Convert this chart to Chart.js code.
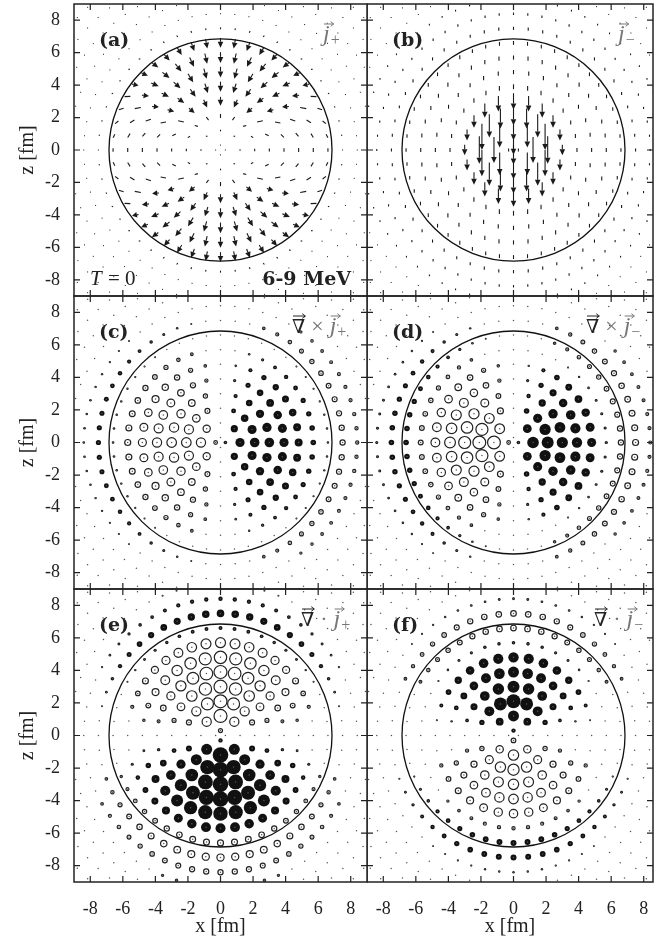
<!DOCTYPE html>
<html>
<head>
<meta charset="utf-8">
<script src="https://cdn.jsdelivr.net/npm/chart.js@4.4.1/dist/chart.umd.min.js"></script>
<style>
  body { margin: 0; background: #fff; width: 655px; height: 943px; position: relative; overflow: hidden; }
  canvas { position: absolute; }
</style>
</head>
<body>
<canvas id="pa"></canvas>
<canvas id="pb"></canvas>
<canvas id="pc"></canvas>
<canvas id="pd"></canvas>
<canvas id="pe"></canvas>
<canvas id="pf"></canvas>
<script>
// axis ticks and the polar mesh the fields are sampled on
const tickValues = [-8, -6, -4, -2, 0, 2, 4, 6, 8];
const ringRadius = [0.3, 1.2, 2.1, 3.0, 3.9, 4.8, 5.7, 6.6, 7.5, 8.4, 9.3, 10.2, 11.1, 12.0, 12.9];
const ringCount = [4, 8, 16, 20, 28, 32, 40, 48, 52, 60, 64, 72, 76, 84, 92];
const nucleusRadius = 6.85;

// (a) j+ : radial part read on the z axis, tangential part read on the x axis
const jPlusRadial = [-0.05, -0.1, -0.25, -0.55, -0.62, -0.66, -0.66, -0.6, -0.12, -0.08, -0.06, -0.05, -0.04, -0.04, -0.03];
const jPlusTangential = [-0.06, -0.1, -0.14, -0.18, -0.22, -0.24, -0.26, -0.22, -0.08, -0.06, -0.05, -0.04, -0.03, -0.03, -0.02];

// (b) j- : downward current on the z axis and on the x axis
const jMinusAxis = [1.2, 1.2, 1.15, 1.0, 0.3, 0.26, 0.26, 0.24, 0.2, 0.15, 0.11, 0.08, 0.06, 0.05, 0.04];
const jMinusEquator = [0.2, 1.6, 1.7, 0.65, 0.24, 0.24, 0.24, 0.22, 0.18, 0.13, 0.1, 0.08, 0.06, 0.05, 0.04];

// (c), (d) curl : values on the +x side and on the -x side
const curlPlusRight = [18, 46, 48, 48, 46, 40, 28, 12, -26, -16, -7, -3, -1, 0, 0];
const curlPlusLeft = [-18, -46, -48, -48, -46, -40, -30, 13, 26, 13, 6, 2, 1, 0, 0];
const curlMinusRight = [18, 58, 60, 56, 52, 45, 16, -26, -30, -15, -6, -3, -1, 0, 0];
const curlMinusLeft = [-18, -64, -64, -60, -54, -44, -24, 28, 28, 15, 6, 3, 1, 0, 0];

// (e), (f) divergence : values above and below the x axis
const divPlusTop = [-20, -65, -65, -65, -65, -62, -50, 20, 38, 22, 10, 4, 1, 0, 0];
const divPlusBottom = [22, 78, 78, 78, 78, 72, 50, -30, -36, -26, -12, -4, -1, 0, 0];
const divMinusTop = [22, 55, 70, 60, 55, 52, 18, -28, -28, 14, 6, 3, 1, 0, 0];
const divMinusBottom = [-23, -52, -56, -52, -48, -42, -16, 30, 30, 12, 5, 2, 1, 0, 0];

const sizeScale = 0.1;
const serif = "'Liberation Serif', serif";

function meshPoints() {
    const pts = [];
    ringRadius.forEach((r, k) => {
        const n = ringCount[k];
        for (let i = 0; i < n; i++) {
            const t = 2 * Math.PI * i / n;
            const s = Math.sin(t), c = Math.cos(t);
            const x = r * s, y = r * c;
            if (Math.abs(x) < 9.4 && Math.abs(y) < 9.4) pts.push({ x: x, y: y, k: k, s: s, c: c });
        }
    });
    return pts;
}
const mesh = meshPoints();

function bubbleSets(valueOf) {
    const vals = mesh.map(p => ({ x: p.x, y: p.y, v: valueOf(p) }));
    return [
        { data: mesh.map(p => ({ x: p.x, y: p.y })), pointRadius: 0.75, pointBackgroundColor: "#555", pointBorderWidth: 0, clip: 0 },
        { data: vals.filter(d => d.v < -11), pointRadius: c => Math.abs(c.raw.v) * sizeScale, pointBackgroundColor: "rgba(0,0,0,0)", pointBorderColor: "#222", pointBorderWidth: 1.2, clip: 0 },
        { data: vals.filter(d => d.v > 9), pointRadius: c => c.raw.v * sizeScale, pointBackgroundColor: "#111", pointBorderWidth: 0, clip: 0 }
    ];
}

function vectorSet(vecOf) {
    return [{ data: mesh.map(p => Object.assign({ x: p.x, y: p.y }, vecOf(p))), pointRadius: 0, clip: 0 }];
}

function drawArrow(ctx, x0, y0, x1, y1) {
    const dx = x1 - x0, dy = y1 - y0, L = Math.hypot(dx, dy);
    if (L < 1.3) {
        ctx.fillRect((x0 + x1) / 2 - 0.5, (y0 + y1) / 2 - 0.5, 1, 1);
        return;
    }
    ctx.beginPath();
    if (L < 6.5) {
        ctx.moveTo(x0, y0); ctx.lineTo(x1, y1); ctx.stroke();
        return;
    }
    const ux = dx / L, uy = dy / L, hl = Math.min(6, L * 0.75), hw = 2.8;
    ctx.moveTo(x0, y0); ctx.lineTo(x1 - ux * hl, y1 - uy * hl); ctx.stroke();
    ctx.beginPath();
    ctx.moveTo(x1, y1);
    ctx.lineTo(x1 - ux * hl - uy * hw, y1 - uy * hl + ux * hw);
    ctx.lineTo(x1 - ux * hl + uy * hw, y1 - uy * hl - ux * hw);
    ctx.closePath(); ctx.fill();
}

function vecGlyph(ctx, x, y, ch, font, color, lift, a0, a1) {
    ctx.font = font; ctx.fillStyle = color; ctx.strokeStyle = color;
    ctx.fillText(ch, x, y);
    const w = ctx.measureText(ch).width;
    const ay = y - lift, xa = x + a0, xb = x + w + a1;
    ctx.lineWidth = 1;
    ctx.beginPath();
    ctx.moveTo(xa, ay); ctx.lineTo(xb, ay);
    ctx.moveTo(xb - 3, ay - 2.3); ctx.lineTo(xb, ay); ctx.lineTo(xb - 3, ay + 2.3);
    ctx.stroke();
    return w;
}

function jSymbol(ctx, x, y, sign) {
    const w = vecGlyph(ctx, x, y, "j", "italic 24px " + serif, "#777", 17, 1, 4);
    ctx.font = "16px " + serif;
    ctx.fillText(sign, x + w + 1, y + 4);
}

function symbolLabel(ctx, x, y, kind, sign) {
    if (kind === "j") { jSymbol(ctx, x, y, sign); return; }
    const w = vecGlyph(ctx, x, y, "\u2207", "19px 'DejaVu Serif'", "#222", 17, 1, 0);
    ctx.font = "22px " + serif; ctx.fillStyle = "#777";
    const op = kind === "curl" ? "\u00d7" : "\u00b7";
    ctx.fillText(op, x + w + 6, y);
    const wo = ctx.measureText(op).width;
    jSymbol(ctx, x + w + wo + 12, y, sign);
}

const panelPlugin = {
    id: "panel",
    afterDatasetsDraw(chart, args, opts) {
        const ctx = chart.ctx, a = chart.chartArea, xs = chart.scales.x, ys = chart.scales.y;
        if (opts.vectors) {
            ctx.save();
            ctx.beginPath(); ctx.rect(a.left, a.top, a.right - a.left, a.bottom - a.top); ctx.clip();
            ctx.fillStyle = "#1a1a1a"; ctx.strokeStyle = "#1a1a1a"; ctx.lineWidth = 1.1;
            const meta = chart.getDatasetMeta(0);
            chart.data.datasets[0].data.forEach((d, i) => {
                const el = meta.data[i];
                const hx = (xs.getPixelForValue(d.x + d.u) - el.x) / 2;
                const hy = (ys.getPixelForValue(d.y + d.w) - el.y) / 2;
                drawArrow(ctx, el.x - hx, el.y - hy, el.x + hx, el.y + hy);
            });
            ctx.restore();
        }
    },
    afterDraw(chart, args, opts) {
        const ctx = chart.ctx, a = chart.chartArea, xs = chart.scales.x, ys = chart.scales.y;
        ctx.save();
        ctx.beginPath(); ctx.rect(a.left, a.top, a.right - a.left, a.bottom - a.top); ctx.clip();
        // nucleus surface
        const cx = xs.getPixelForValue(0), cy = ys.getPixelForValue(0);
        const rx = xs.getPixelForValue(nucleusRadius) - cx, ry = cy - ys.getPixelForValue(nucleusRadius);
        ctx.strokeStyle = "#111"; ctx.lineWidth = 1.3;
        ctx.beginPath(); ctx.ellipse(cx, cy, rx, ry, 0, 0, 2 * Math.PI); ctx.stroke();
        // inward ticks on all four sides
        ctx.strokeStyle = "#222"; ctx.lineWidth = 1.2;
        ctx.beginPath();
        tickValues.forEach(v => {
            const px = xs.getPixelForValue(v), py = ys.getPixelForValue(v);
            ctx.moveTo(px, a.bottom); ctx.lineTo(px, a.bottom - 6);
            ctx.moveTo(px, a.top); ctx.lineTo(px, a.top + 6);
            ctx.moveTo(a.left, py); ctx.lineTo(a.left + 6, py);
            ctx.moveTo(a.right, py); ctx.lineTo(a.right - 6, py);
        });
        ctx.stroke();
        ctx.restore();
        // frame
        ctx.save();
        ctx.strokeStyle = "#222"; ctx.lineWidth = 1.5;
        ctx.strokeRect(a.left, a.top, a.right - a.left, a.bottom - a.top);
        // texts
        ctx.textBaseline = "alphabetic"; ctx.textAlign = "left";
        ctx.fillStyle = "#222";
        ctx.font = "bold 19px 'DejaVu Serif'";
        ctx.fillText(opts.tag, a.left + 25, a.top + 42);
        symbolLabel(ctx, a.left + opts.symX, a.top + 37, opts.kind, opts.sign);
        if (opts.corner) {
            ctx.fillStyle = "#222";
            ctx.font = "italic 21px " + serif;
            ctx.fillText("T", a.left + 16, a.bottom - 11);
            const wt = ctx.measureText("T").width;
            ctx.font = "21px " + serif;
            ctx.fillText(" = 0", a.left + 16 + wt + 1, a.bottom - 11);
            ctx.font = "bold 19px 'DejaVu Serif'";
            ctx.textAlign = "right";
            ctx.fillText("6-9 MeV", a.right - 16, a.bottom - 11);
        }
        ctx.restore();
    }
};

function noOverflow(s) {
    s.paddingTop = 0; s.paddingBottom = 0; s.paddingLeft = 0; s.paddingRight = 0;
}

function makePanel(id, cfg) {
    const cv = document.getElementById(id);
    cv.width = cfg.w; cv.height = cfg.h;
    cv.style.left = cfg.left + "px"; cv.style.top = cfg.top + "px";
    cv.style.width = cfg.w + "px"; cv.style.height = cfg.h + "px";
    const tickFont = { family: serif, size: 18 };
    return new Chart(cv, {
        type: "scatter",
        data: { datasets: cfg.datasets },
        options: {
            responsive: false, animation: false, events: [],
            layout: { autoPadding: false, padding: { top: 4, bottom: cfg.padBottom, left: 0, right: cfg.padRight } },
            plugins: { legend: { display: false }, tooltip: { enabled: false }, panel: cfg.panel },
            scales: {
                x: {
                    type: "linear", min: -9, max: cfg.xMax, display: cfg.showX,
                    grid: { display: false, drawTicks: false }, border: { display: false },
                    ticks: { padding: 16, color: "#222", font: tickFont, maxRotation: 0 },
                    afterBuildTicks: s => { s.ticks = tickValues.map(v => ({ value: v })); },
                    afterFit: s => { s.height = cfg.showX ? 61 : 0; noOverflow(s); },
                    title: { display: true, text: "x [fm]", color: "#222", font: { family: serif, size: 20 }, padding: { bottom: 4 } }
                },
                y: {
                    type: "linear", min: -9, max: 9, position: "left", display: cfg.showY,
                    grid: { display: false, drawTicks: false }, border: { display: false },
                    ticks: { padding: 14, color: "#222", font: tickFont },
                    afterBuildTicks: s => { s.ticks = tickValues.map(v => ({ value: v })); },
                    afterFit: s => { s.width = cfg.showY ? 74 : 0; noOverflow(s); },
                    title: { display: true, text: "z [fm]", color: "#222", font: { family: serif, size: 20 }, padding: { top: 16 } }
                }
            }
        },
        plugins: [panelPlugin]
    });
}

const left = { left: 0, w: 368, padRight: 1, xMax: 9, showY: true };
const right = { left: 367, w: 288, padRight: 2, xMax: -9 + 286 / (293 / 18), showY: false };
const rowTop = { top: 0, h: 300, padBottom: 4, showX: false };
const rowMid = { top: 292, h: 301, padBottom: 4, showX: false };
const rowBot = { top: 585, h: 358, padBottom: 0, showX: true };

makePanel("pa", Object.assign({}, left, rowTop, {
    datasets: vectorSet(p => {
        const A = jPlusRadial[p.k] * p.c, B = jPlusTangential[p.k] * p.s;
        return { u: A * p.s + B * p.c, w: A * p.c - B * p.s };
    }),
    panel: { vectors: true, tag: "(a)", kind: "j", sign: "+", symX: 249, corner: true }
}));
makePanel("pb", Object.assign({}, right, rowTop, {
    datasets: vectorSet(p => {
        const m = jMinusAxis[p.k] * p.c * p.c + jMinusEquator[p.k] * p.s * p.s;
        return { u: 0, w: -m };
    }),
    panel: { vectors: true, tag: "(b)", kind: "j", sign: "\u2212", symX: 251 }
}));
makePanel("pc", Object.assign({}, left, rowMid, {
    datasets: bubbleSets(p => (p.x >= 0 ? curlPlusRight : curlPlusLeft)[p.k] * Math.pow(Math.abs(p.s), 0.7)),
    panel: { tag: "(c)", kind: "curl", sign: "+", symX: 218 }
}));
makePanel("pd", Object.assign({}, right, rowMid, {
    datasets: bubbleSets(p => (p.x >= 0 ? curlMinusRight : curlMinusLeft)[p.k] * Math.pow(Math.abs(p.s), 0.8)),
    panel: { tag: "(d)", kind: "curl", sign: "\u2212", symX: 219 }
}));
makePanel("pe", Object.assign({}, left, rowBot, {
    datasets: bubbleSets(p => (p.y >= 0 ? divPlusTop : divPlusBottom)[p.k] * Math.abs(p.c)),
    panel: { tag: "(e)", kind: "div", sign: "+", symX: 227 }
}));
makePanel("pf", Object.assign({}, right, rowBot, {
    datasets: bubbleSets(p => (p.y >= 0 ? divMinusTop : divMinusBottom)[p.k] * Math.abs(p.c)),
    panel: { tag: "(f)", kind: "div", sign: "\u2212", symX: 227 }
}));
</script>
</body>
</html>
